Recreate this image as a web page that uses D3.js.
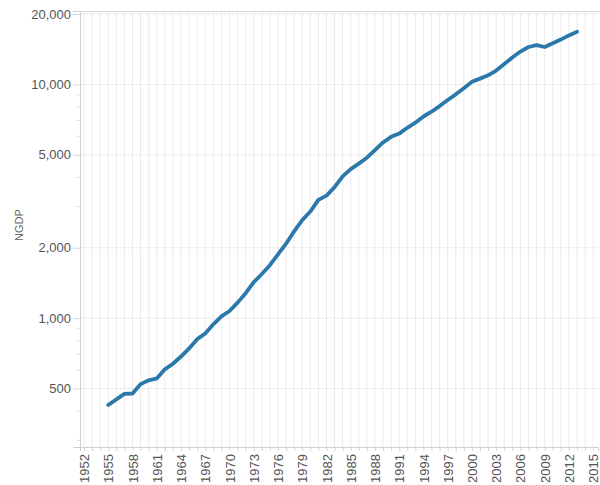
<!DOCTYPE html>
<html>
<head>
<meta charset="utf-8">
<script src="https://cdn.jsdelivr.net/npm/d3@7"></script>
<style>
  body { margin: 0; background: #fff; }
  text { font-family: "Liberation Sans", Arial, sans-serif; }
</style>
</head>
<body>
<div id="chart"></div>
<script>
var years = d3.range(1955, 2014);
var ngdp = [
  425, 449, 474, 476, 522, 542, 552, 604, 638, 685,
  742, 813, 860, 941, 1018, 1073, 1165, 1279, 1425, 1545,
  1685, 1873, 2082, 2352, 2627, 2857, 3207, 3344, 3634, 4038,
  4339, 4580, 4855, 5236, 5642, 5963, 6158, 6520, 6859, 7287,
  7640, 8073, 8578, 9063, 9631, 10252, 10582, 10936, 11458, 12214,
  13037, 13815, 14452, 14713, 14449, 14992, 15543, 16197, 16785
];
var yTicks = [500, 1000, 2000, 5000, 10000, 20000];
var yMinor = [300, 400, 600, 700, 800, 900, 3000, 4000, 6000, 7000, 8000, 9000];
var xTicks = d3.range(1952, 2016);

var width = 600, height = 485;
var margin = { top: 11, right: 2, bottom: 38, left: 80 };

var svg = d3.select("#chart")
    .append("svg")
    .attr("width", width)
    .attr("height", height);

var xScale = d3.scaleLinear()
    .domain([1951.5, 2015.6])
    .range([margin.left, width - margin.right]);

var yScale = d3.scaleLog()
    .domain([281, 20600])
    .range([height - margin.bottom, margin.top]);

// grid
svg.append("g")
    .selectAll("line")
    .data(xTicks)
    .enter().append("line")
    .attr("x1", function(d){ return xScale(d); })
    .attr("x2", function(d){ return xScale(d); })
    .attr("y1", margin.top)
    .attr("y2", height - margin.bottom)
    .style("stroke", "#ebebeb")
    .style("stroke-width", 1);

svg.append("g")
    .selectAll("line")
    .data(yTicks)
    .enter().append("line")
    .attr("x1", margin.left)
    .attr("x2", width - margin.right)
    .attr("y1", function(d){ return yScale(d); })
    .attr("y2", function(d){ return yScale(d); })
    .style("stroke", "#ebebeb")
    .style("stroke-width", 1);

// top border
svg.append("line")
    .attr("x1", margin.left).attr("x2", width)
    .attr("y1", margin.top + 0.5).attr("y2", margin.top + 0.5)
    .style("stroke", "#dcdcdc");

// y axis
var yAxis = svg.append("g")
    .attr("transform", "translate(" + margin.left + ",0)")
    .call(d3.axisLeft(yScale)
        .tickValues(yTicks)
        .tickSize(7)
        .tickPadding(2)
        .tickFormat(d3.format(",")));

yAxis.select(".domain").style("stroke", "#cfcfcf");
yAxis.selectAll(".tick line").style("stroke", "#d6d6d6");
yAxis.selectAll(".tick text")
    .style("font-size", "13px")
    .style("fill", "#555");

svg.append("g")
    .selectAll("line")
    .data(yMinor)
    .enter().append("line")
    .attr("x1", margin.left - 3)
    .attr("x2", margin.left)
    .attr("y1", function(d){ return yScale(d); })
    .attr("y2", function(d){ return yScale(d); })
    .style("stroke", "#dcdcdc");

// x axis
var xAxis = svg.append("g")
    .attr("transform", "translate(0," + (height - margin.bottom) + ")")
    .call(d3.axisBottom(xScale)
        .tickValues(xTicks)
        .tickSize(4)
        .tickFormat(function(d){ return (d - 1952) % 3 === 0 ? String(d) : ""; }));

xAxis.select(".domain").style("stroke", "#cfcfcf");
xAxis.selectAll(".tick line").style("stroke", "#d6d6d6");
xAxis.selectAll(".tick text")
    .style("font-size", "13px")
    .style("fill", "#555")
    .attr("text-anchor", "end")
    .attr("transform", "rotate(-90)")
    .attr("x", -7)
    .attr("y", 0)
    .attr("dy", "0.35em");

// axis title
svg.append("text")
    .attr("transform", "translate(23,225) rotate(-90)")
    .attr("text-anchor", "middle")
    .style("font-size", "11px")
    .style("fill", "#666")
    .text("NGDP");

// line
var line = d3.line()
    .x(function(d, i){ return xScale(years[i]); })
    .y(function(d){ return yScale(d); });

svg.append("path")
    .datum(ngdp)
    .attr("d", line)
    .style("fill", "none")
    .style("stroke", "#2b78ab")
    .style("stroke-width", 3.8)
    .style("stroke-linejoin", "round")
    .style("stroke-linecap", "round");
</script>
</body>
</html>
